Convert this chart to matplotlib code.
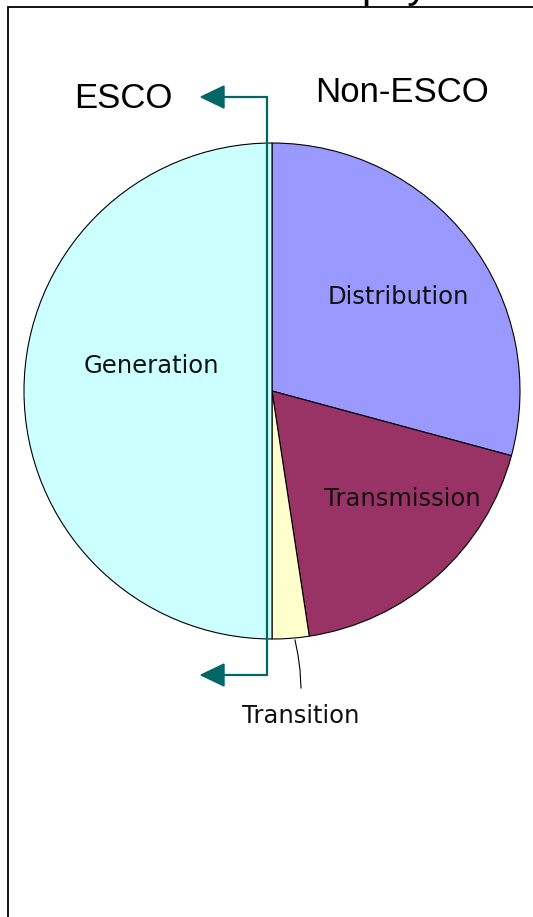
import matplotlib.pyplot as plt
from matplotlib.patches import Polygon

# pie data (percent of total)
labels = ['Distribution', 'Transmission', 'Transition', 'Generation']
shares = [29.2, 18.4, 2.4, 50.0]
colors = ['#9999FF', '#993366', '#FFFFCC', '#CCFFFF']
group_labels = ['ESCO', 'Non-ESCO']

W, H = 533, 917
fig = plt.figure(figsize=(W / 100, H / 100), dpi=100)
ax = fig.add_axes([0, 0, 1, 1])

head = ['Liberation Sans', 'DejaVu Sans']

cx, cy, r = 272, H - 391, 248
ax.pie(shares, colors=colors, startangle=90, counterclock=False,
       center=(cx, cy), radius=r, frame=True,
       wedgeprops=dict(edgecolor='black', linewidth=0.8))
ax.set_xlim(0, W)
ax.set_ylim(0, H)
ax.set_aspect('auto')
ax.axis('off')

# frame (only top and left edges are visible)
ax.plot([8, 8, W + 5], [-5, H - 7, H - 7], color='black', lw=1.3, solid_joinstyle='miter')
# cut-off title above the frame
ax.text(361, H + 3, 'pay', fontsize=30, family=head, va='baseline', ha='left')

# slice labels
lab_pos = {'Distribution': (398, 297), 'Transmission': (402, 499),
           'Generation': (151, 366), 'Transition': (301, 716)}
for name in labels:
    x, y = lab_pos[name]
    ax.text(x, H - y, name, fontsize=17.5, family='DejaVu Sans', stretch='normal',
            ha='center', va='center', color='#111111')

# leader line for Transition
ax.plot([295, 298, 300, 301], [H - 640, H - 655, H - 670, H - 688],
        color='black', lw=0.8)

# teal divider with arrows
teal = '#006666'
ax.plot([222, 267, 267, 222], [H - 97, H - 97, H - 675, H - 675],
        color=teal, lw=1.6, solid_joinstyle='miter')
for yy in (97, 675):
    ax.add_patch(Polygon([[201, H - yy], [224, H - yy + 11], [224, H - yy - 11]],
                         closed=True, color=teal))

ax.text(123, H - 99, group_labels[0], fontsize=25, family=head,
        ha='center', va='center')
ax.text(402, H - 92, group_labels[1], fontsize=25, family=head,
        ha='center', va='center')

fig.savefig('out.png', dpi=100)
